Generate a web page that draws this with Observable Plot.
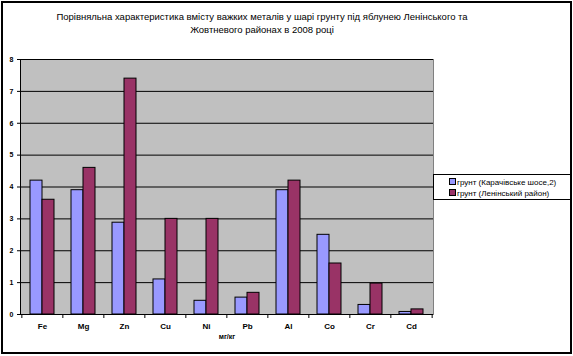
<!DOCTYPE html>
<html>
<head>
<meta charset="utf-8">
<script src="https://cdn.jsdelivr.net/npm/d3@7"></script>
<script src="https://cdn.jsdelivr.net/npm/@observablehq/plot@0.6"></script>
<style>
  body { margin: 0; background: #fff; font-family: "Liberation Sans", Arial, sans-serif; }
  #wrap { position: relative; width: 573px; height: 356px; overflow: hidden; }
  #chart { position: absolute; left: 0; top: 0; }
  #border { position: absolute; left: 1px; top: 1px; width: 571px; height: 353px; box-sizing: border-box; border: 2px solid #000; pointer-events: none; }
  #title { position: absolute; left: 0; top: 10px; width: 524px; text-align: center; font-size: 9.5px; line-height: 13px; color: #000; }
  #legend { position: absolute; left: 433px; top: 174px; width: 138px; height: 26px; box-sizing: border-box; border: 1px solid #000; background: #fff; font-size: 8px; padding: 2px 0 0 15px; }
  #legend .row { height: 11px; line-height: 11px; white-space: nowrap; }
  #legend .sw { display: inline-block; width: 5px; height: 5px; border: 1px solid #000; margin-right: 1px; vertical-align: 0px; }
</style>
</head>
<body>
<div id="wrap">
  <div id="chart"></div>
  <div id="title">Порівняльна характеристика вмісту важких металів у шарі грунту під яблунею Ленінського та<br>Жовтневого районах в 2008 році</div>
  <div id="legend"></div>
  <div id="border"></div>
</div>
<script>
const categories = ["Fe", "Mg", "Zn", "Cu", "Ni", "Pb", "Al", "Co", "Cr", "Cd"];
const seriesNames = ["грунт  (Карачівське шосе,2)", "грунт  (Ленінський район)"];
const seriesA = [4.2, 3.9, 2.88, 1.1, 0.43, 0.53, 3.9, 2.5, 0.3, 0.08];
const seriesB = [3.6, 4.6, 7.4, 3.0, 3.0, 0.68, 4.2, 1.6, 0.97, 0.16];
const yTicks = [0, 1, 2, 3, 4, 5, 6, 7, 8];
const unitLabel = "мг/кг";
const colors = ["#9999ff", "#993366"];

const dataA = categories.map((c, i) => ({cat: c, v: seriesA[i]}));
const dataB = categories.map((c, i) => ({cat: c, v: seriesB[i]}));

const step = 413 / categories.length;

const plot = Plot.plot({
  width: 573,
  height: 356,
  marginLeft: 20,
  marginRight: 140,
  marginTop: 59,
  marginBottom: 42,
  style: {fontFamily: "Liberation Sans, Arial, sans-serif", background: "transparent", color: "#000"},
  x: {type: "band", domain: categories, paddingInner: 0.42, paddingOuter: 0.21, axis: null},
  y: {domain: [0, 8], axis: null},
  marks: [
    Plot.frame({fill: "#c0c0c0", stroke: "#808080"}),
    Plot.ruleY(yTicks.slice(1), {stroke: "#000", strokeWidth: 1}),
    Plot.barY(dataA, {x: "cat", y: "v", fill: colors[0], stroke: "#000", strokeWidth: 1, insetRight: 12}),
    Plot.barY(dataB, {x: "cat", y: "v", fill: colors[1], stroke: "#000", strokeWidth: 1, insetLeft: 12}),
    Plot.frame({anchor: "left", stroke: "#000"}),
    Plot.ruleY([0], {stroke: "#000"}),
    Plot.axisY({ticks: yTicks, tickSize: 3, tickPadding: 4, fontSize: 7, fontWeight: "bold", stroke: "#000", label: null}),
    Plot.axisX({tickSize: 0, tickPadding: 9, fontSize: 8, fontWeight: "bold", label: null}),
    Plot.axisX({tickSize: 4, tickFormat: () => "", dx: -step / 2, stroke: "#000", label: null}),
    Plot.axisX({ticks: [categories[categories.length - 1]], tickSize: 4, tickFormat: () => "", dx: step / 2, stroke: "#000", label: null}),
    Plot.text([unitLabel], {frameAnchor: "bottom", dy: 24, fontSize: 7, fontWeight: "bold", text: d => d})
  ]
});
document.getElementById("chart").appendChild(plot);

const legend = document.getElementById("legend");
seriesNames.forEach((name, i) => {
  const row = document.createElement("div");
  row.className = "row";
  const sw = document.createElement("span");
  sw.className = "sw";
  sw.style.background = colors[i];
  row.appendChild(sw);
  row.appendChild(document.createTextNode(name));
  legend.appendChild(row);
});
</script>
</body>
</html>
